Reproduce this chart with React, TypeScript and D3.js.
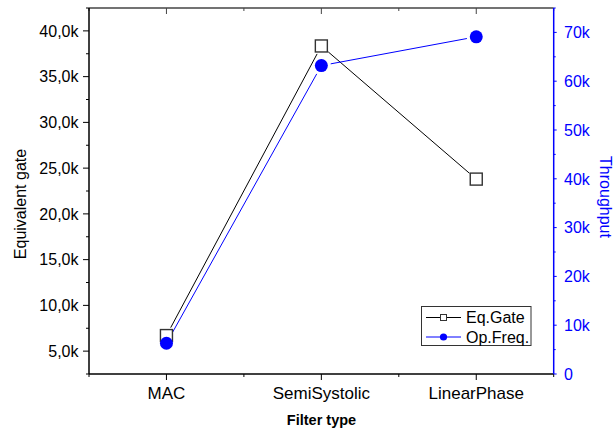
import React from "react";
import * as d3 from "d3";

const categories = ["MAC", "SemiSystolic", "LinearPhase"];
const eqGate = [6700, 38350, 23800];
const opFreq = [6300, 63200, 69100];
const leftTicks = [5000, 10000, 15000, 20000, 25000, 30000, 35000, 40000];
const leftMinor = [2500, 7500, 12500, 17500, 22500, 27500, 32500, 37500, 42500];
const rightTicks = [0, 10000, 20000, 30000, 40000, 50000, 60000, 70000];
const rightMinor = [5000, 15000, 25000, 35000, 45000, 55000, 65000, 75000];
const xMinor = [0.5, 1.5, 2.5, 3.5];

const W = 613, H = 431;
const M = { left: 89, right: 553.7, top: 8, bottom: 374 };
const FONT = "'Liberation Sans', Arial, Helvetica, sans-serif";
const BLUE = "#0000ff";

function shorten(pts: [number, number][], gap: number) {
  const segs: [number, number, number, number][] = [];
  for (let i = 0; i < pts.length - 1; i++) {
    const [x1, y1] = pts[i];
    const [x2, y2] = pts[i + 1];
    const dx = x2 - x1, dy = y2 - y1;
    const L = Math.hypot(dx, dy);
    const ux = dx / L, uy = dy / L;
    segs.push([x1 + ux * gap, y1 + uy * gap, x2 - ux * gap, y2 - uy * gap]);
  }
  return segs;
}

export default function App() {
  const x = d3.scaleLinear().domain([0.5, 3.5]).range([M.left, M.right]);
  const yL = d3.scaleLinear().domain([2500, 42500]).range([M.bottom, M.top]);
  const yR = d3.scaleLinear().domain([0, 75000]).range([M.bottom, M.top]);
  const fmtL = (v: number) => (v / 1000).toFixed(1).replace(".", ",") + "k";
  const fmtR = (v: number) => (v === 0 ? "0" : v / 1000 + "k");

  const gatePts = eqGate.map((v, i) => [x(i + 1), yL(v)] as [number, number]);
  const freqPts = opFreq.map((v, i) => [x(i + 1), yR(v)] as [number, number]);
  const gateSegs = shorten(gatePts, 9);
  const freqSegs = shorten(freqPts, 9.5);

  const lg = { x0: 421.5, y0: 306.5, x1: 531, y1: 345.5 };

  return (
    <svg width={W} height={H} style={{ position: "absolute", left: 0, top: 0, background: "#fff" }} fontFamily={FONT}>
      <rect x={0} y={0} width={W} height={H} fill="#fff" />
      {/* data lines */}
      {gateSegs.map((s, i) => (
        <line key={"gl" + i} x1={s[0]} y1={s[1]} x2={s[2]} y2={s[3]} stroke="#000" strokeWidth={1} />
      ))}
      {freqSegs.map((s, i) => (
        <line key={"fl" + i} x1={s[0]} y1={s[1]} x2={s[2]} y2={s[3]} stroke={BLUE} strokeWidth={1} />
      ))}
      {gatePts.map((p, i) => (
        <rect key={"gm" + i} x={p[0] - 6} y={p[1] - 6} width={12} height={12} fill="#fff" stroke="#333" strokeWidth={1.4} />
      ))}
      {freqPts.map((p, i) => (
        <circle key={"fm" + i} cx={p[0]} cy={p[1]} r={6.5} fill={BLUE} />
      ))}

      {/* top axis */}
      <line x1={M.left} y1={M.top} x2={M.right} y2={M.top} stroke="#444" strokeWidth={1.5} />
      {categories.map((c, i) => (
        <line key={"tt" + i} x1={x(i + 1)} x2={x(i + 1)} y1={M.top} y2={M.top + 6} stroke="#444" strokeWidth={1} />
      ))}
      {xMinor.map((v, i) => (
        <line key={"ttm" + i} x1={x(v)} x2={x(v)} y1={M.top} y2={M.top + 3} stroke="#444" strokeWidth={1} />
      ))}

      {/* bottom axis */}
      <line x1={M.left} y1={M.bottom} x2={M.right} y2={M.bottom} stroke="#000" strokeWidth={1.5} />
      {categories.map((c, i) => (
        <g key={"bt" + i}>
          <line x1={x(i + 1)} x2={x(i + 1)} y1={M.bottom} y2={M.bottom + 6} stroke="#000" strokeWidth={1} />
          <text x={x(i + 1)} y={399} textAnchor="middle" fontSize={17} fill="#000">{c}</text>
        </g>
      ))}
      {xMinor.map((v, i) => (
        <line key={"btm" + i} x1={x(v)} x2={x(v)} y1={M.bottom} y2={M.bottom + 3} stroke="#000" strokeWidth={1} />
      ))}
      <text x={321.5} y={425} textAnchor="middle" fontSize={14.5} fontWeight="bold" fill="#000">Filter type</text>

      {/* left axis */}
      <line x1={M.left} y1={M.top} x2={M.left} y2={M.bottom} stroke="#000" strokeWidth={1.5} />
      {leftTicks.map((v, i) => (
        <g key={"lt" + i}>
          <line x1={M.left - 6} x2={M.left} y1={yL(v)} y2={yL(v)} stroke="#000" strokeWidth={1} />
          <text x={78.5} y={yL(v)} dy="0.36em" textAnchor="end" fontSize={16} fill="#000">{fmtL(v)}</text>
        </g>
      ))}
      {leftMinor.map((v, i) => (
        <line key={"ltm" + i} x1={M.left - 3} x2={M.left} y1={yL(v)} y2={yL(v)} stroke="#000" strokeWidth={1} />
      ))}
      <text transform={`translate(26,204) rotate(-90)`} textAnchor="middle" fontSize={16} fill="#000">Equivalent gate</text>

      {/* right axis */}
      <line x1={M.right} y1={M.top} x2={M.right} y2={M.bottom} stroke={BLUE} strokeWidth={1.5} />
      {rightTicks.map((v, i) => (
        <g key={"rt" + i}>
          <line x1={M.right} x2={M.right + 3} y1={yR(v)} y2={yR(v)} stroke={BLUE} strokeWidth={1} />
          <text x={564} y={yR(v)} dy="0.36em" textAnchor="start" fontSize={16} fill={BLUE}>{fmtR(v)}</text>
        </g>
      ))}
      {rightMinor.map((v, i) => (
        <line key={"rtm" + i} x1={M.right} x2={M.right + 2} y1={yR(v)} y2={yR(v)} stroke={BLUE} strokeWidth={1} />
      ))}
      <text transform={`translate(599.5,197) rotate(90)`} textAnchor="middle" fontSize={16} fill={BLUE}>Throughput</text>

      {/* legend */}
      <rect x={lg.x0} y={lg.y0} width={lg.x1 - lg.x0} height={lg.y1 - lg.y0} fill="#fff" stroke="#333" strokeWidth={1} />
      <line x1={426} x2={461} y1={317.5} y2={317.5} stroke="#000" strokeWidth={1} />
      <rect x={440.5} y={314.5} width={6} height={6} fill="#fff" stroke="#333" strokeWidth={1} />
      <text x={466} y={317.5} dy="0.36em" fontSize={16} fill="#000">Eq.Gate</text>
      <line x1={426} x2={461} y1={337} y2={337} stroke={BLUE} strokeWidth={1} />
      <circle cx={443.5} cy={337} r={3.6} fill={BLUE} />
      <text x={466} y={337} dy="0.36em" fontSize={16} fill="#000">Op.Freq.</text>
    </svg>
  );
}
